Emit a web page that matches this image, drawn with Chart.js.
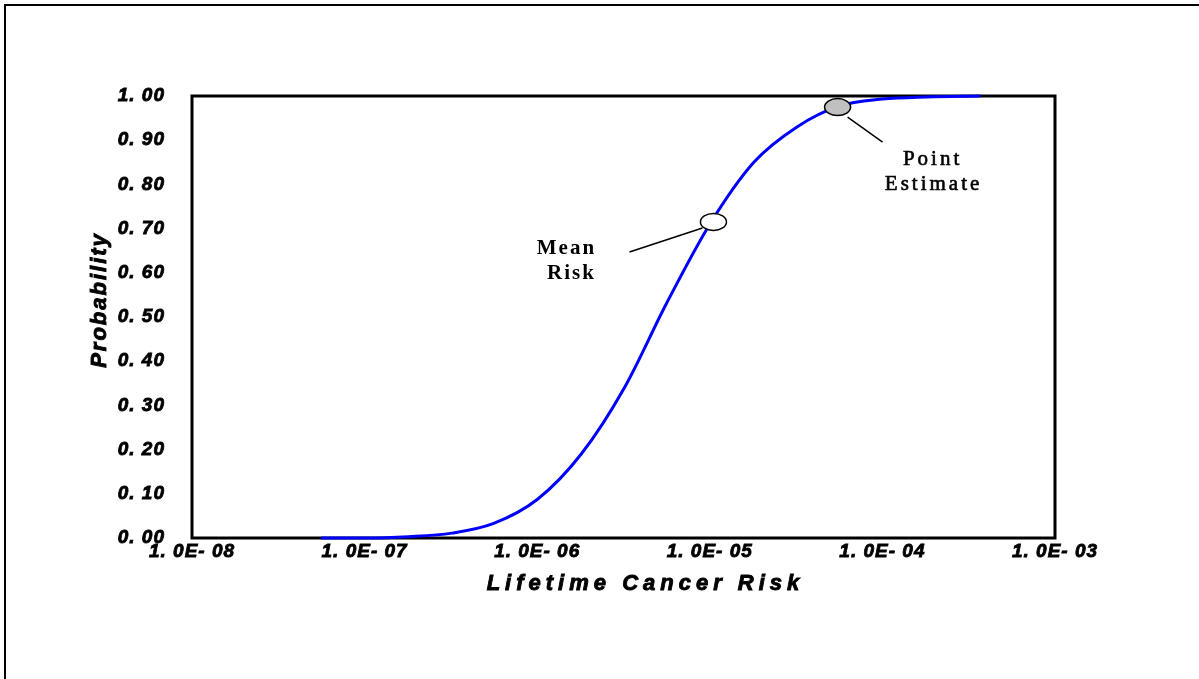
<!DOCTYPE html>
<html>
<head>
<meta charset="utf-8">
<title>Lifetime Cancer Risk</title>
<script src="https://cdn.jsdelivr.net/npm/chart.js@4"></script>
<style>
    html, body { margin: 0; padding: 0; background: #ffffff; overflow: hidden; }
    canvas { display: block; }
</style>
</head>
<body>
<canvas id="risk_cdf" width="1199" height="679"></canvas>
<script>
// values
const riskValues = [5.6e-8, 1.0e-7, 1.8e-7, 3.2e-7, 5.6e-7, 1.0e-6, 1.8e-6, 3.2e-6, 5.6e-6,
    1.0e-5, 1.8e-5, 3.2e-5, 5.6e-5, 1.0e-4, 1.8e-4, 3.7e-4];
const probValues = [0.000, 0.000, 0.003, 0.011, 0.033, 0.087, 0.19, 0.34, 0.53,
    0.71, 0.85, 0.93, 0.977, 0.993, 0.998, 1.000];

const xTickValues = [1e-8, 1e-7, 1e-6, 1e-5, 1e-4, 1e-3];
const xTickLabels = ["1. 0E- 08", "1. 0E- 07", "1. 0E- 06", "1. 0E- 05", "1. 0E- 04", "1. 0E- 03"];
const yTickValues = [0, 0.1, 0.2, 0.3, 0.4, 0.5, 0.6, 0.7, 0.8, 0.9, 1.0];
const yTickLabels = ["0. 00", "0. 10", "0. 20", "0. 30", "0. 40", "0. 50", "0. 60", "0. 70", "0. 80", "0. 90", "1. 00"];

const meanRisk = {x: 1.05e-5, y: 0.715};
const pointEstimate = {x: 5.5e-5, y: 0.975};

const tickFont = {family: 'Liberation Sans', size: 19, style: 'italic', weight: 'bold'};

const annotate = {
    id: 'annotate',
    beforeDraw(chart) {
        let ctx = chart.ctx;
        ctx.letterSpacing = '1px';
        // page frame (runs off the right and bottom edge)
        ctx.save();
        ctx.lineWidth = 2;
        ctx.strokeStyle = '#000000';
        ctx.strokeRect(5, 5, 1300, 800);
        ctx.restore();
    },
    beforeDatasetsDraw(chart) {
        let ctx = chart.ctx, a = chart.chartArea;
        ctx.save();
        ctx.lineWidth = 3;
        ctx.strokeStyle = '#000000';
        ctx.strokeRect(a.left, a.top, a.right - a.left, a.bottom - a.top);
        ctx.restore();
    },
    afterDatasetsDraw(chart) {
        let ctx = chart.ctx, a = chart.chartArea;
        let xs = chart.scales.x, ys = chart.scales.y;

        function marker(p, fill) {
            let px = xs.getPixelForValue(p.x), py = ys.getPixelForValue(p.y);
            ctx.beginPath();
            ctx.ellipse(px, py, 13, 8.5, 0, 0, Math.PI * 2);
            ctx.fillStyle = fill;
            ctx.fill();
            ctx.lineWidth = 1.5;
            ctx.strokeStyle = '#000000';
            ctx.stroke();
            return [px, py];
        }
        function leader(x1, y1, x2, y2) {
            ctx.beginPath();
            ctx.moveTo(x1, y1);
            ctx.lineTo(x2, y2);
            ctx.lineWidth = 1.5;
            ctx.strokeStyle = '#000000';
            ctx.stroke();
        }
        function heavyText(s, x, y) {
            ctx.fillText(s, x, y);
            ctx.strokeText(s, x, y);
        }

        ctx.save();
        let [mx, my] = marker(meanRisk, '#ffffff');
        leader(mx - 11, my + 6, mx - 84, my + 30);
        let [ex, ey] = marker(pointEstimate, '#c0c0c0');
        leader(ex + 10, ey + 10, ex + 45, ey + 35);

        ctx.fillStyle = '#000000';
        ctx.strokeStyle = '#000000';
        ctx.lineWidth = 0.6;
        ctx.textAlign = 'center';
        ctx.textBaseline = 'middle';
        ctx.letterSpacing = '2px';
        ctx.font = 'bold 21px "Liberation Serif"';
        ctx.fillText('Mean', mx - 147, my + 27);
        ctx.fillText('Risk', mx - 142, my + 52);
        ctx.letterSpacing = '3px';
        ctx.font = '21px "Liberation Serif"';
        heavyText('Point', ex + 95, ey + 52);
        heavyText('Estimate', ex + 96, ey + 77);

        // axis titles
        ctx.lineWidth = 0.9;
        ctx.font = 'italic bold 22px "Liberation Sans"';
        ctx.letterSpacing = '5px';
        heavyText('Lifetime Cancer Risk', (a.left + a.right) / 2 + 22, a.bottom + 46);
        ctx.letterSpacing = '2px';
        ctx.translate(a.left - 92, (a.top + a.bottom) / 2 - 17);
        ctx.rotate(-Math.PI / 2);
        heavyText('Probability', 0, 0);
        ctx.restore();
    }
};

let risk_cdf = document.getElementById('risk_cdf').getContext('2d');
new Chart(risk_cdf, {
    type: 'line',
    data: {
        labels: riskValues,
        datasets: [
            {
                data: riskValues.map((r, i) => ({x: r, y: probValues[i]})),
                borderColor: '#0000ff',
                borderWidth: 3,
                pointRadius: 0,
                fill: false,
                cubicInterpolationMode: 'monotone',
                clip: false,
            }
        ],
    },
    options: {
        responsive: false,
        animation: false,
        devicePixelRatio: 1,
        layout: {
            padding: {left: 0, top: 96, right: 144, bottom: 0}
        },
        plugins: {
            legend: {display: false},
            tooltip: {enabled: false},
        },
        scales: {
            x: {
                type: 'logarithmic',
                min: 1e-8,
                max: 1e-3,
                afterBuildTicks: (scale) => { scale.ticks = xTickValues.map(v => ({value: v})); },
                afterFit: (scale) => { scale.height = 141; },
                grid: {display: false, drawTicks: false},
                border: {display: false},
                ticks: {
                    autoSkip: false,
                    maxRotation: 0,
                    minRotation: 0,
                    padding: 2,
                    color: '#000000',
                    textStrokeColor: '#000000',
                    textStrokeWidth: 0.8,
                    font: tickFont,
                    callback: (v, i) => xTickLabels[i],
                },
            },
            y: {
                min: 0,
                max: 1,
                afterBuildTicks: (scale) => { scale.ticks = yTickValues.map(v => ({value: v})); },
                afterFit: (scale) => { scale.width = 192; },
                grid: {display: false, drawTicks: false},
                border: {display: false},
                ticks: {
                    padding: 27,
                    color: '#000000',
                    textStrokeColor: '#000000',
                    textStrokeWidth: 0.8,
                    font: tickFont,
                    callback: (v, i) => yTickLabels[i],
                },
            },
        },
    },
    plugins: [annotate]
});
</script>
</body>
</html>
